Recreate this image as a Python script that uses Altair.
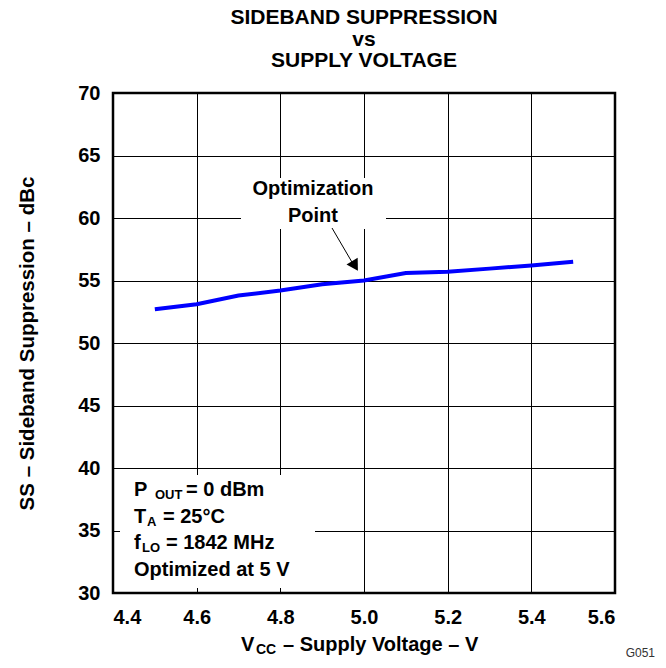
import altair as alt
import pandas as pd

# ---- data ----
vcc = [4.5, 4.6, 4.7, 4.8, 4.9, 5.0, 5.1, 5.2, 5.3, 5.4, 5.5]
ss = [52.7, 53.1, 53.8, 54.2, 54.7, 55.0, 55.6, 55.7, 55.95, 56.2, 56.5]
x_ticks = [4.4, 4.6, 4.8, 5.0, 5.2, 5.4, 5.6]
y_ticks = [30, 35, 40, 45, 50, 55, 60, 65, 70]
title_lines = ["SIDEBAND SUPPRESSION", "vs", "SUPPLY VOLTAGE"]
y_title = "SS – Sideband Suppression – dBc"

FONT = "Liberation Sans"
W, H = 502, 500

df = pd.DataFrame({"vcc": vcc, "ss": ss})
one = pd.DataFrame({"k": [0]})

xs = alt.Scale(domain=[4.4, 5.6], nice=False, zero=False)
ys = alt.Scale(domain=[30, 70], nice=False, zero=False)

line = alt.Chart(df).mark_line(color="#0000ff", strokeWidth=4, clip=True).encode(
    x=alt.X("vcc:Q", scale=xs,
            axis=alt.Axis(values=x_ticks, format=".1f", title=None, labelPadding=14)),
    y=alt.Y("ss:Q", scale=ys,
            axis=alt.Axis(values=y_ticks, title=y_title, labelPadding=13,
                          titleX=-86, titleY=250, titleAngle=270,
                          titleAlign="center", titleBaseline="middle",
                          titleFont=FONT, titleFontSize=20.5, titleFontWeight="bold",
                          titleColor="black")),
)


def box(x1, x2, y1, y2):
    return alt.Chart(one).mark_rect(fill="white", stroke=None).encode(
        x=alt.value(x1), x2=alt.value(x2), y=alt.value(y1), y2=alt.value(y2))


def txt(t, x, y, size=20, align="left"):
    return alt.Chart(one).mark_text(
        text=t, font=FONT, fontSize=size, fontWeight="bold", color="black",
        align=align, baseline="middle").encode(x=alt.value(x), y=alt.value(y))


box_opt = box(128, 273, 85, 136)
box_cond = box(7, 202, 382, 495)

arrow_line = alt.Chart(one).mark_rule(color="black", strokeWidth=1).encode(
    x=alt.value(219), y=alt.value(135), x2=alt.value(243), y2=alt.value(176))
arrow_head = alt.Chart(one).mark_point(
    shape="triangle-up", filled=True, color="black", opacity=1, size=170, angle=149
).encode(x=alt.value(242), y=alt.value(173))

texts = [
    txt("Optimization", 200, 96, align="center"),
    txt("Point", 200, 123, align="center"),
    txt("P", 21, 397), txt("OUT", 42, 402, size=13), txt("= 0 dBm", 73, 397),
    txt("T", 21, 424), txt("A", 34, 429, size=13), txt("= 25°C", 50, 424),
    txt("f", 21, 450), txt("LO", 29, 455, size=13), txt("= 1842 MHz", 53, 450),
    txt("Optimized at 5 V", 21, 477),
    # x axis title with subscript
    txt("V", 128, 552), txt("CC", 143, 557, size=14),
    txt("– Supply Voltage – V", 170, 552),
]

g051 = alt.Chart(one).mark_text(
    text="G051", font=FONT, fontSize=12, color="#333333", align="right",
    baseline="bottom").encode(x=alt.value(542), y=alt.value(567))

chart = alt.layer(line, box_opt, box_cond, arrow_line, arrow_head, *texts, g051).properties(
    width=W, height=H,
    title=alt.TitleParams(text=title_lines, font=FONT, fontSize=21, fontWeight="bold",
                          color="black", anchor="middle", lineHeight=21.5, offset=12),
    autosize=alt.AutoSizeParams(type="none"),
    padding={"left": 105, "top": 85, "right": 42, "bottom": 67},
).configure_view(stroke="black", strokeWidth=2.5).configure_axis(
    grid=True, gridColor="black", gridWidth=1, gridOpacity=1,
    domain=False, ticks=False,
    labelFont=FONT, labelFontSize=20, labelFontWeight="bold", labelColor="black",
)

chart.save("out.html", embed_options={"renderer": "svg", "actions": False})
